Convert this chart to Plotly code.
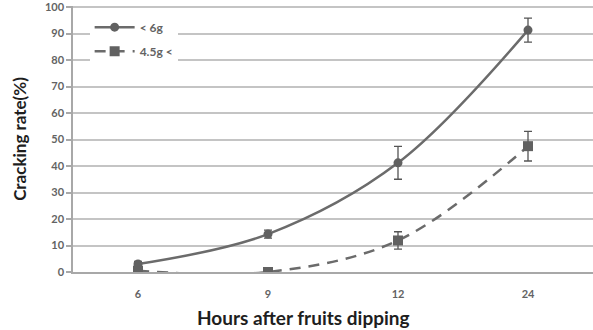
import plotly.graph_objects as go

hours = ["6", "9", "12", "24"]
small_vals = [3.0, 14.3, 41.2, 91.3]
small_err = [1.0, 1.5, 6.2, 4.5]
large_vals = [0.5, 0.0, 11.9, 47.5]
large_err = [0.0, 0.0, 3.3, 5.6]
series_names = ["< 6g", "4.5g <"]
y_ticks = [0, 10, 20, 30, 40, 50, 60, 70, 80, 90, 100]
x_title = "Hours after fruits dipping"
y_title = "Cracking rate(%)"

line_col = "#6b6b6b"
mark_col = "#616161"
grid_col = "#c4c4c4"
text_col = "#636363"
font_fam = "Lato, Open Sans, DejaVu Sans, sans-serif"

fig = go.Figure()
fig.add_trace(go.Scatter(
    x=hours, y=small_vals, name=series_names[0], legendgroup="a",
    mode="lines+markers", line=dict(color=line_col, width=2.5, shape="spline"),
    marker=dict(symbol="circle", size=9, color=mark_col),
    error_y=dict(type="data", array=small_err, color="#555555", thickness=1.3, width=4),
))
fig.add_trace(go.Scatter(
    x=hours, y=large_vals, name=series_names[1], legendgroup="b",
    mode="lines+markers", line=dict(color=line_col, width=2.5, shape="spline", dash="11px,8px"),
    marker=dict(symbol="square", size=10, color=mark_col),
    error_y=dict(type="data", array=large_err, color="#555555", thickness=1.3, width=4),
))

fig.update_layout(
    width=593, height=330,
    margin=dict(l=73, r=0, t=4, b=58),
    paper_bgcolor="white", plot_bgcolor="white",
    font=dict(family=font_fam, color=text_col, size=11),
    showlegend=True,
    legend=dict(
        x=0.032, y=0.975, xanchor="left", yanchor="top",
        bgcolor="white", borderwidth=0, tracegroupgap=5,
        itemwidth=40,
        font=dict(family=font_fam, size=12, color=text_col, weight="bold"),
    ),
    xaxis=dict(
        type="category", categoryorder="array", categoryarray=hours,
        range=[-0.5, 3.5],
        showgrid=False, showline=True, linecolor="#a8a8a8", linewidth=1.5,
        ticks="", ticklabelstandoff=11,
        tickfont=dict(size=11, color=text_col, weight="bold"),
    ),
    yaxis=dict(
        range=[0, 100.4], tickvals=y_ticks,
        showgrid=True, gridcolor=grid_col, gridwidth=1.5,
        showline=True, linecolor="#a8a8a8", linewidth=1.5,
        ticks="outside", ticklen=5, tickcolor="#a8a8a8", tickwidth=1.5,
        zeroline=False, ticklabeloverflow="allow",
        tickfont=dict(size=11, color=text_col, weight="bold"),
        title=dict(text="<b>" + y_title + "</b>",
                   font=dict(size=17, color="#1e1e1e"), standoff=14),
    ),
    annotations=[dict(
        text="<b>" + x_title + "</b>", xref="paper", yref="paper",
        x=0.444, y=-0.2164, xanchor="center", yanchor="bottom",
        showarrow=False, borderpad=0,
        font=dict(size=19, color="#1e1e1e", family=font_fam),
    )],
)

fig.write_html("out.html")
